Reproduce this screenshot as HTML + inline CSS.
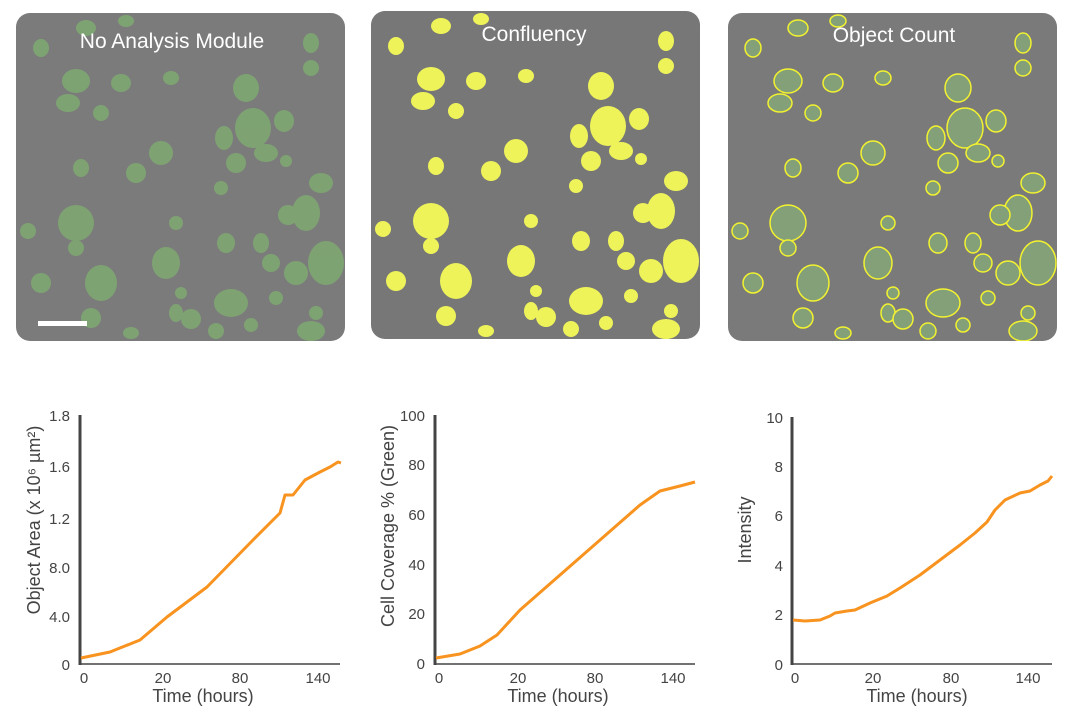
<!DOCTYPE html>
<html><head><style>
html,body{margin:0;padding:0;background:#fff;}
text{font-family:"Liberation Sans",sans-serif;fill:#444;}
</style></head><body>
<svg width="1069" height="717" viewBox="0 0 1069 717" xmlns="http://www.w3.org/2000/svg">
<defs>
<g id="blobs">
<ellipse cx="25" cy="35" rx="8" ry="9"/><ellipse cx="70" cy="15" rx="10" ry="8"/><ellipse cx="110" cy="8" rx="8" ry="6"/>
<ellipse cx="60" cy="68" rx="14" ry="12"/><ellipse cx="105" cy="70" rx="10" ry="9"/><ellipse cx="155" cy="65" rx="8" ry="7"/>
<ellipse cx="52" cy="90" rx="12" ry="9"/><ellipse cx="85" cy="100" rx="8" ry="8"/><ellipse cx="230" cy="75" rx="13" ry="14"/>
<ellipse cx="295" cy="55" rx="8" ry="8"/><ellipse cx="295" cy="30" rx="8" ry="10"/><ellipse cx="237" cy="115" rx="18" ry="20"/>
<ellipse cx="268" cy="108" rx="10" ry="11"/><ellipse cx="208" cy="125" rx="9" ry="12"/><ellipse cx="250" cy="140" rx="12" ry="9"/>
<ellipse cx="220" cy="150" rx="10" ry="10"/><ellipse cx="145" cy="140" rx="12" ry="12"/><ellipse cx="270" cy="148" rx="6" ry="6"/>
<ellipse cx="120" cy="160" rx="10" ry="10"/><ellipse cx="65" cy="155" rx="8" ry="9"/><ellipse cx="205" cy="175" rx="7" ry="7"/>
<ellipse cx="305" cy="170" rx="12" ry="10"/><ellipse cx="290" cy="200" rx="14" ry="18"/><ellipse cx="272" cy="202" rx="10" ry="10"/>
<ellipse cx="60" cy="210" rx="18" ry="18"/><ellipse cx="12" cy="218" rx="8" ry="8"/><ellipse cx="60" cy="235" rx="8" ry="8"/>
<ellipse cx="160" cy="210" rx="7" ry="7"/><ellipse cx="150" cy="250" rx="14" ry="16"/><ellipse cx="210" cy="230" rx="9" ry="10"/>
<ellipse cx="245" cy="230" rx="8" ry="10"/><ellipse cx="255" cy="250" rx="9" ry="9"/><ellipse cx="280" cy="260" rx="12" ry="12"/>
<ellipse cx="310" cy="250" rx="18" ry="22"/><ellipse cx="85" cy="270" rx="16" ry="18"/><ellipse cx="25" cy="270" rx="10" ry="10"/>
<ellipse cx="165" cy="280" rx="6" ry="6"/><ellipse cx="215" cy="290" rx="17" ry="14"/><ellipse cx="160" cy="300" rx="7" ry="9"/>
<ellipse cx="175" cy="306" rx="10" ry="10"/><ellipse cx="260" cy="285" rx="7" ry="7"/><ellipse cx="300" cy="300" rx="7" ry="7"/>
<ellipse cx="75" cy="305" rx="10" ry="10"/><ellipse cx="295" cy="318" rx="14" ry="10"/><ellipse cx="200" cy="318" rx="8" ry="8"/>
<ellipse cx="235" cy="312" rx="7" ry="7"/><ellipse cx="115" cy="320" rx="8" ry="6"/>
</g>
<clipPath id="c1"><rect x="0" y="0" width="329" height="328" rx="14"/></clipPath>
</defs>

<!-- Panel 1 -->
<g transform="translate(16,13)" clip-path="url(#c1)">
<rect width="329" height="328" fill="#7b7b7b"/>
<use href="#blobs" fill="#7fb070" opacity="0.75"/>
<rect x="22" y="308" width="49" height="5" fill="#fff"/>
</g>
<text x="172" y="48" text-anchor="middle" font-size="21" style="fill:#fff">No Analysis Module</text>

<!-- Panel 2 -->
<g transform="translate(371,11)" clip-path="url(#c1)">
<rect width="329" height="328" fill="#777"/>
<use href="#blobs" fill="#eef35a"/>
</g>
<text x="534" y="41" text-anchor="middle" font-size="21" style="fill:#fff">Confluency</text>

<!-- Panel 3 -->
<g transform="translate(728,13)" clip-path="url(#c1)">
<rect width="329" height="328" fill="#7a7a7a"/>
<use href="#blobs" fill="#84a078" stroke="#f2f230" stroke-width="1.5"/>
</g>
<text x="894" y="42" text-anchor="middle" font-size="21" style="fill:#fff">Object Count</text>

<!-- Chart 1 -->
<g>
<line x1="80" y1="415" x2="80" y2="665" stroke="#444" stroke-width="3"/>
<line x1="79" y1="664" x2="340" y2="664" stroke="#444" stroke-width="1.5"/>
<g font-size="15" text-anchor="end">
<text x="70" y="421">1.8</text><text x="70" y="472">1.6</text><text x="70" y="524">1.2</text>
<text x="70" y="573">8.0</text><text x="70" y="622">4.0</text><text x="70" y="670">0</text>
</g>
<g font-size="15" text-anchor="middle">
<text x="84" y="683">0</text><text x="163" y="683">20</text><text x="240" y="683">80</text><text x="318" y="683">140</text>
</g>
<text x="203" y="702" font-size="18" text-anchor="middle">Time (hours)</text>
<text transform="translate(40,520) rotate(-90)" font-size="18" text-anchor="middle">Object Area (x 10⁶ µm²)</text>
<polyline fill="none" stroke="#f7931e" stroke-width="3" stroke-linejoin="round" points="81,658 110,652 140,640 167,617 207,587 253,540 280,513 285,495 293,495 305,480 320,472 330,467 338,462 341,463"/>
</g>

<!-- Chart 2 -->
<g>
<line x1="435" y1="415" x2="435" y2="665" stroke="#444" stroke-width="3"/>
<line x1="434" y1="664" x2="695" y2="664" stroke="#444" stroke-width="1.5"/>
<g font-size="15" text-anchor="end">
<text x="425" y="421">100</text><text x="425" y="470">80</text><text x="425" y="520">60</text>
<text x="425" y="570">40</text><text x="425" y="619">20</text><text x="425" y="669">0</text>
</g>
<g font-size="15" text-anchor="middle">
<text x="439" y="683">0</text><text x="518" y="683">20</text><text x="595" y="683">80</text><text x="673" y="683">140</text>
</g>
<text x="558" y="702" font-size="18" text-anchor="middle">Time (hours)</text>
<text transform="translate(394,526) rotate(-90)" font-size="18" text-anchor="middle">Cell Coverage % (Green)</text>
<polyline fill="none" stroke="#f7931e" stroke-width="3" stroke-linejoin="round" points="436,658 460,654 480,646 497,635 520,610 560,575 600,540 640,505 660,491 680,486 695,482"/>
</g>

<!-- Chart 3 -->
<g>
<line x1="792" y1="417" x2="792" y2="665" stroke="#444" stroke-width="3"/>
<line x1="791" y1="664" x2="1052" y2="664" stroke="#444" stroke-width="1.5"/>
<g font-size="15" text-anchor="end">
<text x="783" y="423">10</text><text x="783" y="472">8</text><text x="783" y="521">6</text>
<text x="783" y="571">4</text><text x="783" y="620">2</text><text x="783" y="670">0</text>
</g>
<g font-size="15" text-anchor="middle">
<text x="795" y="683">0</text><text x="873" y="683">20</text><text x="951" y="683">80</text><text x="1028" y="683">140</text>
</g>
<text x="917" y="702" font-size="18" text-anchor="middle">Time (hours)</text>
<text transform="translate(751,530) rotate(-90)" font-size="18" text-anchor="middle">Intensity</text>
<polyline fill="none" stroke="#f7931e" stroke-width="3" stroke-linejoin="round" points="793,620 805,621 820,620 830,616 835,613 847,611 855,610 870,603 887,596 900,588 920,575 940,560 960,545 975,533 987,522 995,510 1005,500 1020,493 1030,491 1040,485 1048,481 1052,476"/>
</g>
</svg>
</body></html>
